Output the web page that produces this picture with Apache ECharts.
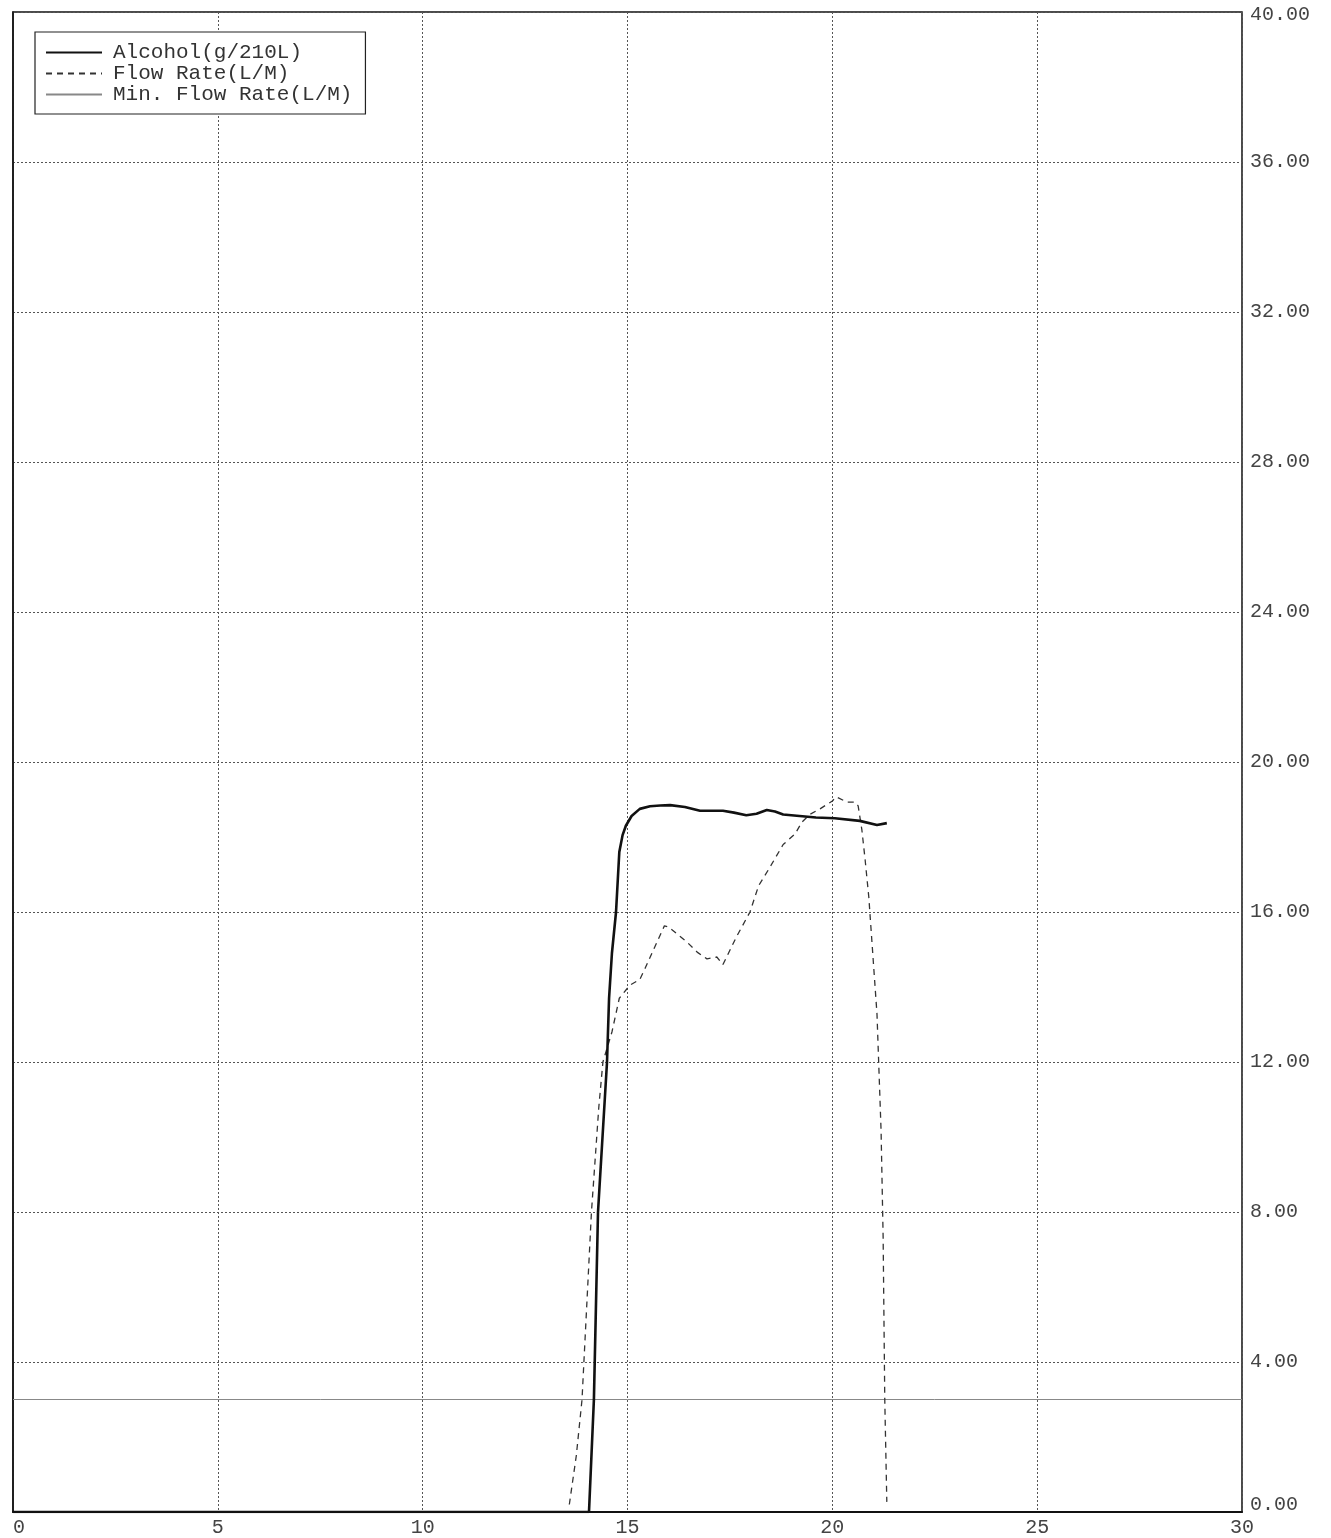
<!DOCTYPE html>
<html>
<head>
<meta charset="utf-8">
<script src="https://cdn.jsdelivr.net/npm/echarts@6/dist/echarts.min.js"></script>
<style>
html,body{margin:0;padding:0;background:#fff;}
#chart{width:1331px;height:1538px;}
</style>
</head>
<body>
<div id="chart"></div>
<script>
// Time in seconds (x) and values (y)
var alcoholTime  = [0, 14.06, 14.18, 14.28, 14.5, 14.55, 14.62, 14.72, 14.8, 14.88, 14.96, 15.1, 15.3, 15.55, 15.8, 16.04, 16.4, 16.77, 17.33, 17.6, 17.9, 18.15, 18.4, 18.6, 18.8, 19.2, 19.6, 20.06, 20.67, 21.09, 21.33];
var alcoholValue = [0, 0, 3, 8, 12, 13.7, 14.9, 16, 17.6, 18.05, 18.3, 18.56, 18.75, 18.82, 18.84, 18.85, 18.8, 18.7, 18.7, 18.65, 18.58, 18.62, 18.72, 18.68, 18.6, 18.56, 18.52, 18.5, 18.43, 18.32, 18.37];

var flowTime  = [13.58, 13.75, 13.89, 14.12, 14.3, 14.4, 14.62, 14.8, 15.06, 15.3, 15.43, 15.72, 15.9, 16.0, 16.45, 16.7, 16.94, 17.18, 17.33, 17.67, 17.99, 18.2, 18.48, 18.8, 19.09, 19.26, 19.45, 19.7, 20.0, 20.1, 20.36, 20.55, 20.63, 20.72, 20.8, 20.89, 21.09, 21.19, 21.24, 21.28, 21.33];
var flowValue = [0.2, 1.5, 3, 8, 10.8, 12, 12.8, 13.7, 14.05, 14.2, 14.5, 15.2, 15.63, 15.6, 15.2, 14.93, 14.75, 14.8, 14.6, 15.36, 16, 16.7, 17.2, 17.8, 18.08, 18.4, 18.6, 18.75, 18.96, 19.07, 18.93, 18.93, 18.83, 18.2, 17.4, 16.4, 13.28, 10.16, 7.33, 3, 0.27];

var minFlowRate = 3.0;
var xRange = [0, 30];
var yRange = [0, 40];
var xTickStep = 5;
var yTickStep = 4;
var seriesNames = ['Alcohol(g/210L)', 'Flow Rate(L/M)', 'Min. Flow Rate(L/M)'];

function zip(xs, ys){ return xs.map(function(x,i){ return [x, ys[i]]; }); }

var FONT = '"Liberation Mono", "DejaVu Sans Mono", monospace';
var chart = echarts.init(document.getElementById('chart'), null, {renderer:'canvas'});
chart.setOption({
  animation: false,
  backgroundColor: '#fff',
  grid: {left: 13, right: 89, top: 12, bottom: 25, show: true, borderColor: '#111', borderWidth: 1.5, backgroundColor: 'transparent'},
  legend: {
    left: 35, top: 32, orient: 'vertical',
    itemWidth: 56, itemHeight: 20, itemGap: 0,
    padding: [10, 13, 9, 10],
    borderColor: '#222', borderWidth: 1.2, backgroundColor: '#fff',
    itemStyle: {opacity: 0},
    textStyle: {fontFamily: FONT, fontSize: 21, color: '#333', padding: [0, 0, 0, 6]},
    data: seriesNames
  },
  xAxis: {
    type: 'value', min: xRange[0], max: xRange[1], interval: xTickStep,
    axisLine: {show: true, lineStyle: {color: '#111', width: 2}},
    axisTick: {show: false},
    axisLabel: {fontFamily: FONT, fontSize: 20, color: '#444', margin: 6, alignMinLabel: 'left'},
    splitLine: {show: true, lineStyle: {type: [2, 2], color: '#555', width: 1}}
  },
  yAxis: {
    type: 'value', position: 'right', min: yRange[0], max: yRange[1], interval: yTickStep,
    axisLine: {show: true, lineStyle: {color: '#111', width: 1.5}},
    axisTick: {show: false},
    axisLabel: {fontFamily: FONT, fontSize: 20, color: '#444', margin: 8,
      formatter: function(v){
        var s = v.toFixed(2);
        if (v === yRange[1]) return '{t|' + s + '}';
        if (v === yRange[0]) return '{b|' + s + '}';
        return s;
      },
      rich: {
        t: {fontFamily: FONT, fontSize: 20, color: '#444', padding: [6, 0, 0, 0]},
        b: {fontFamily: FONT, fontSize: 20, color: '#444', padding: [0, 0, 14, 0]}
      }
    },
    splitLine: {show: true, lineStyle: {type: [2, 2], color: '#555', width: 1}}
  },
  series: [
    {name: seriesNames[0], type: 'line', data: zip(alcoholTime, alcoholValue), symbol: 'none',
     lineStyle: {color: '#111', width: 2.6}, itemStyle: {color: '#111'}, z: 5},
    {name: seriesNames[1], type: 'line', data: zip(flowTime, flowValue), symbol: 'none',
     lineStyle: {color: '#333', width: 1.3, type: [6, 5]}, itemStyle: {color: '#333'}, z: 4},
    {name: seriesNames[2], type: 'line', data: [[xRange[0], minFlowRate], [xRange[1], minFlowRate]], symbol: 'none',
     lineStyle: {color: '#888', width: 1}, itemStyle: {color: '#888'}, z: 3}
  ]
});
</script>
</body>
</html>
